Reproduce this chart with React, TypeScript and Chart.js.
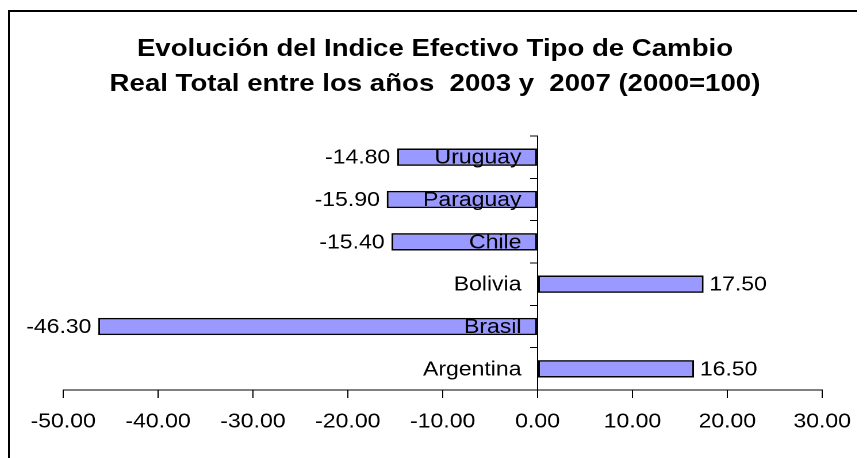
import React, { useEffect, useRef } from "react";
import { Chart, registerables } from "chart.js";

Chart.register(...registerables);

// ---- data ----
const categories = ["Argentina", "Brasil", "Bolivia", "Chile", "Paraguay", "Uruguay"];
const values = [16.5, -46.3, 17.5, -15.4, -15.9, -14.8];
const xTickValues = [-50, -40, -30, -20, -10, 0, 10, 20, 30];
const titleLines = [
  "Evolución del Indice Efectivo Tipo de Cambio",
  "Real Total entre los años  2003 y  2007 (2000=100)",
];

// ---- layout (the reference is a horizontally stretched picture) ----
const SX = 1.15;
const W = 857;
const H = 450;
const IW = Math.round(W / SX);
const FONT = "'Liberation Sans', Arial, sans-serif";

const labelsPlugin = {
  id: "labelsPlugin",
  afterDatasetsDraw(chart: any) {
    const ctx = chart.ctx;
    const meta = chart.getDatasetMeta(0);
    const data = chart.data.datasets[0].data as number[];
    const labels = chart.data.labels as string[];
    const xScale = chart.scales.x;
    const yScale = chart.scales.y;
    const zeroX = xScale.getPixelForValue(0);
    ctx.save();
    ctx.font = `20px ${FONT}`;
    ctx.fillStyle = "#000";
    ctx.textBaseline = "middle";
    // category labels, drawn at the zero line on top of the bars
    labels.forEach((lab, i) => {
      const y = yScale.getPixelForValue(i);
      ctx.textAlign = "right";
      ctx.fillText(lab, zeroX - 14, y + 1);
    });
    // value labels at bar ends
    meta.data.forEach((el: any, i: number) => {
      const v = data[i];
      const { x, y } = el.getProps(["x", "y"], true);
      if (v < 0) {
        ctx.textAlign = "right";
        ctx.fillText(v.toFixed(2), x - 6, y + 1);
      } else {
        ctx.textAlign = "left";
        ctx.fillText(v.toFixed(2), x + 5, y + 1);
      }
    });
    ctx.restore();
  },
};

export default function App() {
  const ref = useRef<HTMLCanvasElement | null>(null);

  useEffect(() => {
    if (!ref.current) return;
    const chart = new Chart(ref.current, {
      type: "bar",
      data: {
        labels: categories,
        datasets: [
          {
            data: values,
            backgroundColor: "#9999FF",
            borderColor: "#000000",
            borderWidth: 1.6,
            borderSkipped: false,
            barPercentage: 0.41,
            categoryPercentage: 1,
          },
        ],
      },
      options: {
        indexAxis: "y",
        animation: false,
        responsive: false,
        devicePixelRatio: 2,
        layout: { padding: { left: 48, right: 30, top: 128, bottom: 12 } },
        plugins: {
          legend: { display: false },
          tooltip: { enabled: false },
          title: { display: false },
        },
        scales: {
          x: {
            type: "linear",
            min: -50,
            max: 30,
            afterBuildTicks: (s: any) => {
              s.ticks = xTickValues.map((v) => ({ value: v }));
            },
            grid: { drawOnChartArea: false, tickLength: 8, color: "#000" },
            border: { color: "#000", width: 1 },
            ticks: {
              color: "#000",
              font: { family: FONT, size: 20 },
              padding: 12,
              maxRotation: 0,
              callback: (v: any) => Number(v).toFixed(2),
            },
          },
          y: {
            type: "category",
            reverse: true,
            position: { x: 0 } as any,
            grid: { drawOnChartArea: false, offset: true, tickLength: 6, color: "#000" },
            border: { color: "#000", width: 1 },
            ticks: { display: false },
          },
        },
      },
      plugins: [labelsPlugin],
    });
    return () => chart.destroy();
  }, []);

  return (
    <div style={{ position: "relative", width: W, height: H, overflow: "hidden", background: "#fff" }}>
      <div
        style={{
          position: "absolute",
          left: 0,
          top: 2,
          width: W + 20,
          height: H + 20,
          borderTop: "2px solid #000",
          borderLeft: "2px solid #000",
          boxSizing: "border-box",
        }}
      />
      <div
        style={{
          position: "absolute",
          left: 0,
          top: 0,
          width: IW,
          height: H,
          transform: `scaleX(${SX})`,
          transformOrigin: "0 0",
        }}
      >
        <canvas ref={ref} width={IW} height={H} style={{ width: IW, height: H, display: "block" }} />
        <div
          style={{
            position: "absolute",
            left: 0,
            top: 21.5,
            width: 742.6,
            textAlign: "center",
            fontFamily: FONT,
            fontWeight: "bold",
            fontSize: 24,
            lineHeight: "35px",
            color: "#000",
            whiteSpace: "pre",
          }}
        >
          {titleLines.map((t, i) => (
            <div key={i}>{t}</div>
          ))}
        </div>
      </div>
    </div>
  );
}
